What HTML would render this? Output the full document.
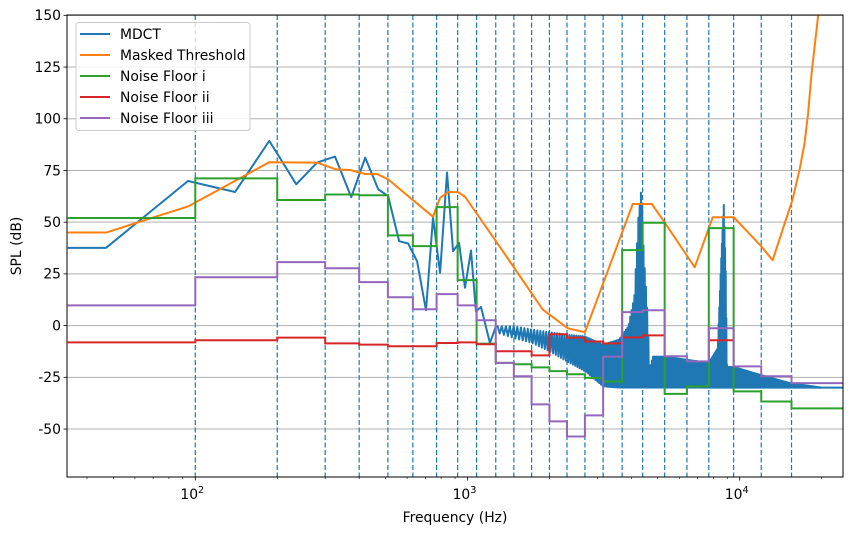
<!DOCTYPE html>
<html><head><meta charset="utf-8"><style>
html,body{margin:0;padding:0;background:#fff;}
svg{display:block;font-family:"DejaVu Sans","Liberation Sans",sans-serif;}
</style></head><body>
<svg id="chart" width="853" height="535" xmlns="http://www.w3.org/2000/svg"></svg>
<script>
// ---- data ----
const bandEdges = [34,100,200,300,400,510,630,770,920,1080,1270,1480,1720,2000,2320,2700,3150,3700,4400,5300,6400,7700,9500,12000,15500,24000];
const floorI = [52,71.2,60.7,63.4,63,43.6,38.4,57.3,22,-8.7,-18,-18.7,-20.2,-22,-23.5,-25.3,-27,36.5,49.7,-33,-29.4,47.1,-31.8,-36.7,-40];
const floorII = [-8.1,-7.1,-5.8,-8.6,-9.2,-10,-10,-8.4,-8.1,-9,-12.4,-12.4,-14.4,-4.2,-5.8,-7.7,-8.6,-5.7,-4.7,null,null,-7.1,null,null,null];
const floorIII = [9.8,23.4,30.7,27.7,21,13.7,7.9,15.2,9.8,2.6,-18,-24.5,-38.1,-46.3,-53.6,-43.4,-15,6.5,7.4,-14.8,-17.3,-1.3,-19.7,-24.5,-27.8];
const threshFreq = [34,47,94,187,280,329,371,421,465,511,747,793,848,923,979,1272,1892,2338,2700,4047,4753,5260,6836,7961,9506,12050,13210,15640,16600,17300,17820,18370,19500];
const threshDb = [45,45,57.6,79,78.8,75.5,75.2,73.3,73.3,70.7,52.6,61.8,64.5,64.5,62.3,40.8,7.7,-1.3,-3.2,58.8,58.8,50.5,28.2,52.4,52.4,38.1,31.6,61,75.5,88,102,122,152];
const mdctFreq = [34,47,94,140,187,235,280,326,374,421,470,511,561,605,653,704,747,793,841,885,931,979,1030,1074,1121,1209,1272];
const mdctDb = [37.6,37.6,69.9,64.6,89.3,68.3,78.8,81.7,62.1,81.2,65.9,62.6,40.8,39.7,31.1,7.4,52.2,25.5,74,36,40,18.3,36.3,6.9,9,-8.4,-0.3];
const upperFreq = [1290,1480,1720,2000,2320,2700,3150,3600,3900,4100,4250,4360,4440,4560,4670,4800,5300,7700,8300,8570,8740,8880,8980,9500,12000,15500,20000,24000];
const upperDb = [-0.3,-0.3,-1.9,-3.2,-4.4,-5.2,-9.2,-6.8,-0.3,14,54,67,35,12,-21,-15,-15,-18,-11,35,59,28,-20,-20,-24,-28,-30,-30];
const lowerFreq = [1290,1480,1720,2000,2320,2700,3150,3600,24000];
const lowerDb = [-3.5,-6,-8.3,-12.4,-17.3,-22,-29.4,-30,-30];
const binHz = 23.4375;
const yTicks = [-50,-25,0,25,50,75,100,125,150];

// ---- axes ----
const L=67,R=843,T=15,B=477;
const X = f => 195.3 + 272.2*(Math.log10(f)-2);
const Y = v => 325.6 - v*2.0685;
const NS='http://www.w3.org/2000/svg';
const svg=document.getElementById('chart');
function mk(tag,attrs,parent){const e=document.createElementNS(NS,tag);for(const k in attrs)e.setAttribute(k,attrs[k]);(parent||svg).appendChild(e);return e;}
function interp(fs,vs,f){const lf=Math.log10(f);for(let i=0;i<fs.length-1;i++){if(f<=fs[i+1]){const a=Math.log10(fs[i]),b=Math.log10(fs[i+1]);return vs[i]+(vs[i+1]-vs[i])*(lf-a)/(b-a);}}return vs[vs.length-1];}

mk('defs',{}).innerHTML='<clipPath id="clip"><rect x="67" y="15" width="776" height="462"/></clipPath>';

// grid
yTicks.forEach(v=>{
  const g=mk('line',{x1:L,x2:R,y1:Y(v),y2:Y(v),stroke:'#b0b0b0','stroke-width':1});
  
  
});
const plot=mk('g',{'clip-path':'url(#clip)'});



// band edges dashed
bandEdges.slice(1,-1).forEach(f=>{
  const l=mk('line',{x1:X(f),x2:X(f),y1:T,y2:B,stroke:'#1f77b4','stroke-width':1.2,'stroke-dasharray':'5,2.5'},plot);
  
  
});

// MDCT
(function(){
  let pts=mdctFreq.map((f,i)=>[X(f),Y(mdctDb[i])]);
  let k=0;
  for(let f=1290;f<=24000;f+=binHz){
    const v = (k%2===0)? interp(upperFreq,upperDb,f) : interp(lowerFreq,lowerDb,f);
    pts.push([X(f),Y(v)]);k++;
  }
  const p=mk('polyline',{points:pts.map(p=>p[0].toFixed(2)+','+p[1].toFixed(2)).join(' '),fill:'none',stroke:'#1f77b4','stroke-width':2,'stroke-linejoin':'round'},plot);
  
  
})();

// Threshold
(function(){
  const pts=threshFreq.map((f,i)=>X(f).toFixed(2)+','+Y(threshDb[i]).toFixed(2)).join(' ');
  const p=mk('polyline',{points:pts,fill:'none',stroke:'#ff7f0e','stroke-width':2,'stroke-linejoin':'round'},plot);
  
  
})();

function steps(vals,color,name){
  let d='',pen=false;
  for(let i=0;i<vals.length;i++){
    const v=vals[i];
    if(v===null){pen=false;continue;}
    const x0=X(bandEdges[i]),x1=X(bandEdges[i+1]),y=Y(v);
    d+=(pen?'L':'M')+x0.toFixed(2)+','+y.toFixed(2)+'L'+x1.toFixed(2)+','+y.toFixed(2);
    pen=true;
  }
  const p=mk('path',{d:d,fill:'none',stroke:color,'stroke-width':2},plot);
  
  
}
steps(floorI,'#2ca02c','noise-floor-i-line');
steps(floorII,'#d62728','noise-floor-ii-line');
steps(floorIII,'#9467bd','noise-floor-iii-line');

// frame
const fr=mk('rect',{x:L,y:T,width:R-L,height:B-T,fill:'none',stroke:'#000','stroke-width':1});



// y ticks
yTicks.forEach(v=>{
  mk('line',{x1:L-3.5,x2:L,y1:Y(v),y2:Y(v),stroke:'#000','stroke-width':0.8});
  const t=mk('text',{x:L-6,y:Y(v)+4.8,'text-anchor':'end','font-size':'13.9px',fill:'#000'});
  t.textContent=String(v);
  
  
});
// x ticks
[2,3,4].forEach(e=>{
  const x=X(Math.pow(10,e));
  mk('line',{x1:x,x2:x,y1:B,y2:B+3.5,stroke:'#000','stroke-width':0.8});
  const t=mk('text',{x:x-3,y:B+22,'text-anchor':'middle','font-size':'13.9px',fill:'#000'});
  t.innerHTML='10<tspan dy="-6" font-size="9.7px">'+e+'</tspan>';
  
  
});
[1,2,3,4].forEach(e=>{for(let m=2;m<=9;m++){const f=m*Math.pow(10,e);if(f<34||f>24000)continue;const x=X(f);mk('line',{x1:x,x2:x,y1:B,y2:B+2,stroke:'#000','stroke-width':0.6});}});

const xl=mk('text',{x:455,y:522,'text-anchor':'middle','font-size':'13.9px'});
xl.textContent='Frequency (Hz)';


const yl=mk('text',{x:0,y:0,'text-anchor':'middle','font-size':'13.9px',transform:'translate(21,246) rotate(-90)'});
yl.textContent='SPL (dB)';



// legend
const lg=mk('g',{});


mk('rect',{x:76,y:22.5,width:174,height:108,rx:3,fill:'#fff','fill-opacity':0.8,stroke:'#cccccc','stroke-width':1},lg);
const legNames=['MDCT','Masked Threshold','Noise Floor i','Noise Floor ii','Noise Floor iii'];
const legColors=['#1f77b4','#ff7f0e','#2ca02c','#d62728','#9467bd'];
legNames.forEach((n,i)=>{
  const y=34+i*21;
  const e=mk('g',{},lg);
  
  
  mk('line',{x1:80,x2:110,y1:y,y2:y,stroke:legColors[i],'stroke-width':2},e);
  const t=mk('text',{x:120,y:y+5,'font-size':'13.9px'},e);
  t.textContent=n;
});
</script>
</body></html>
